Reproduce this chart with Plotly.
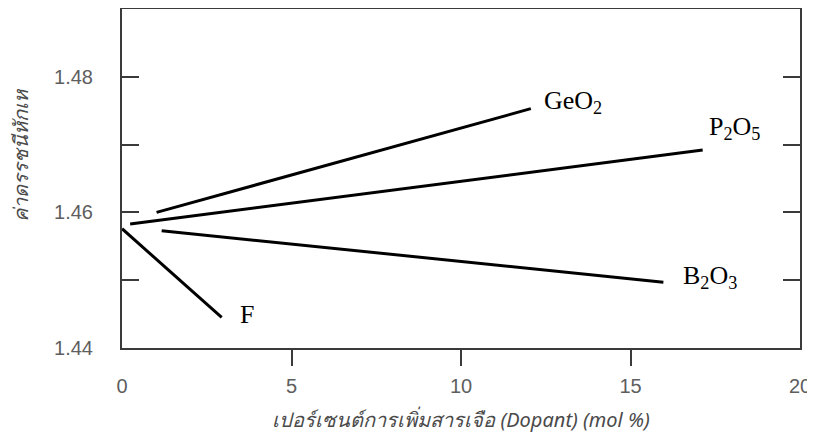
import plotly.graph_objects as go

# ---- data ----
series_names = ["GeO<sub>2</sub>", "P<sub>2</sub>O<sub>5</sub>", "B<sub>2</sub>O<sub>3</sub>", "F"]
geo2_x = [1.02, 12.06]
geo2_y = [1.4600, 1.4753]
p2o5_x = [0.24, 17.13]
p2o5_y = [1.4583, 1.4692]
b2o3_x = [1.17, 15.97]
b2o3_y = [1.4573, 1.4497]
f_x = [0.0, 2.94]
f_y = [1.4576, 1.4445]

x_tick_vals = [0, 5, 10, 15, 20]
x_tick_text = ["0", "5", "10", "15", "20"]
x_tick_marks = [5, 10, 15]
y_tick_vals = [1.44, 1.45, 1.46, 1.47, 1.48]
y_tick_text = ["1.44", "", "1.46", "", "1.48"]

x_title = "เปอร์เซนต์การเพิ่มสารเจือ (Dopant) (mol %)"
y_title = "ค่าดรรชนีหักเห"

# label anchor points (data coords) for series names
label_x = [13.3, 18.08, 17.35, 3.7]
label_y = [1.4763, 1.4725, 1.4505, 1.4449]

fig = go.Figure()
for xs, ys in [(geo2_x, geo2_y), (p2o5_x, p2o5_y), (b2o3_x, b2o3_y), (f_x, f_y)]:
    fig.add_trace(go.Scatter(x=xs, y=ys, mode="lines",
                             line=dict(color="black", width=3),
                             showlegend=False, hoverinfo="skip"))

# invisible trace on overlay axis to carry the tick marks
fig.add_trace(go.Scatter(x=[0, 20], y=[1.44, 1.44], xaxis="x2", mode="lines",
                         line=dict(width=0), showlegend=False, hoverinfo="skip",
                         opacity=0))

for name, lx, ly in zip(series_names, label_x, label_y):
    fig.add_annotation(x=lx, y=ly, text=name, showarrow=False,
                       xanchor="center", yanchor="middle",
                       font=dict(family="Liberation Serif, Times New Roman, serif",
                                 size=26, color="black"))

axis_color = "#3a3a3a"
tick_font = dict(family="Liberation Sans, Arial, sans-serif", size=20, color="#5e5e5e")

# page body has an 8px default margin, so the figure is sized/offset for it
fig.update_layout(
    width=807, height=435,
    margin=dict(l=114, r=15, t=1, b=95, autoexpand=False),
    plot_bgcolor="white", paper_bgcolor="white",
    xaxis=dict(range=[0, 20], tickmode="array", tickvals=x_tick_vals,
               ticktext=x_tick_text, ticks="", showgrid=False, zeroline=False,
               showline=True, linecolor=axis_color, linewidth=2, mirror=True,
               tickfont=tick_font, ticklabelstandoff=19, automargin=False,
               title=dict(text=x_title, standoff=17,
                          font=dict(family="Noto Sans, Liberation Sans, sans-serif",
                                    size=20, color="#4a4a4a", style="italic"))),
    xaxis2=dict(range=[0, 20], overlaying="x", side="bottom", anchor="y",
                tickmode="array", tickvals=x_tick_marks, ticks="outside",
                ticklen=17, tickwidth=2, tickcolor=axis_color,
                showticklabels=False, showgrid=False, zeroline=False,
                showline=False, automargin=False),
    yaxis=dict(range=[1.44, 1.49], tickmode="array", tickvals=y_tick_vals,
               ticktext=y_tick_text, ticks="inside", ticklen=17, tickwidth=2,
               tickcolor=axis_color, showgrid=False, zeroline=False,
               showline=True, linecolor=axis_color, linewidth=2, mirror="ticks",
               tickfont=tick_font, ticklabelstandoff=23, automargin=False),
)

fig.add_annotation(xref="paper", yref="paper", x=-0.15, y=0.569,
                   text=y_title, textangle=-90, showarrow=False,
                   xanchor="center", yanchor="middle",
                   font=dict(family="Noto Sans, Liberation Sans, sans-serif",
                             size=20, color="#4a4a4a", style="italic"))

fig.write_html("out.html")
